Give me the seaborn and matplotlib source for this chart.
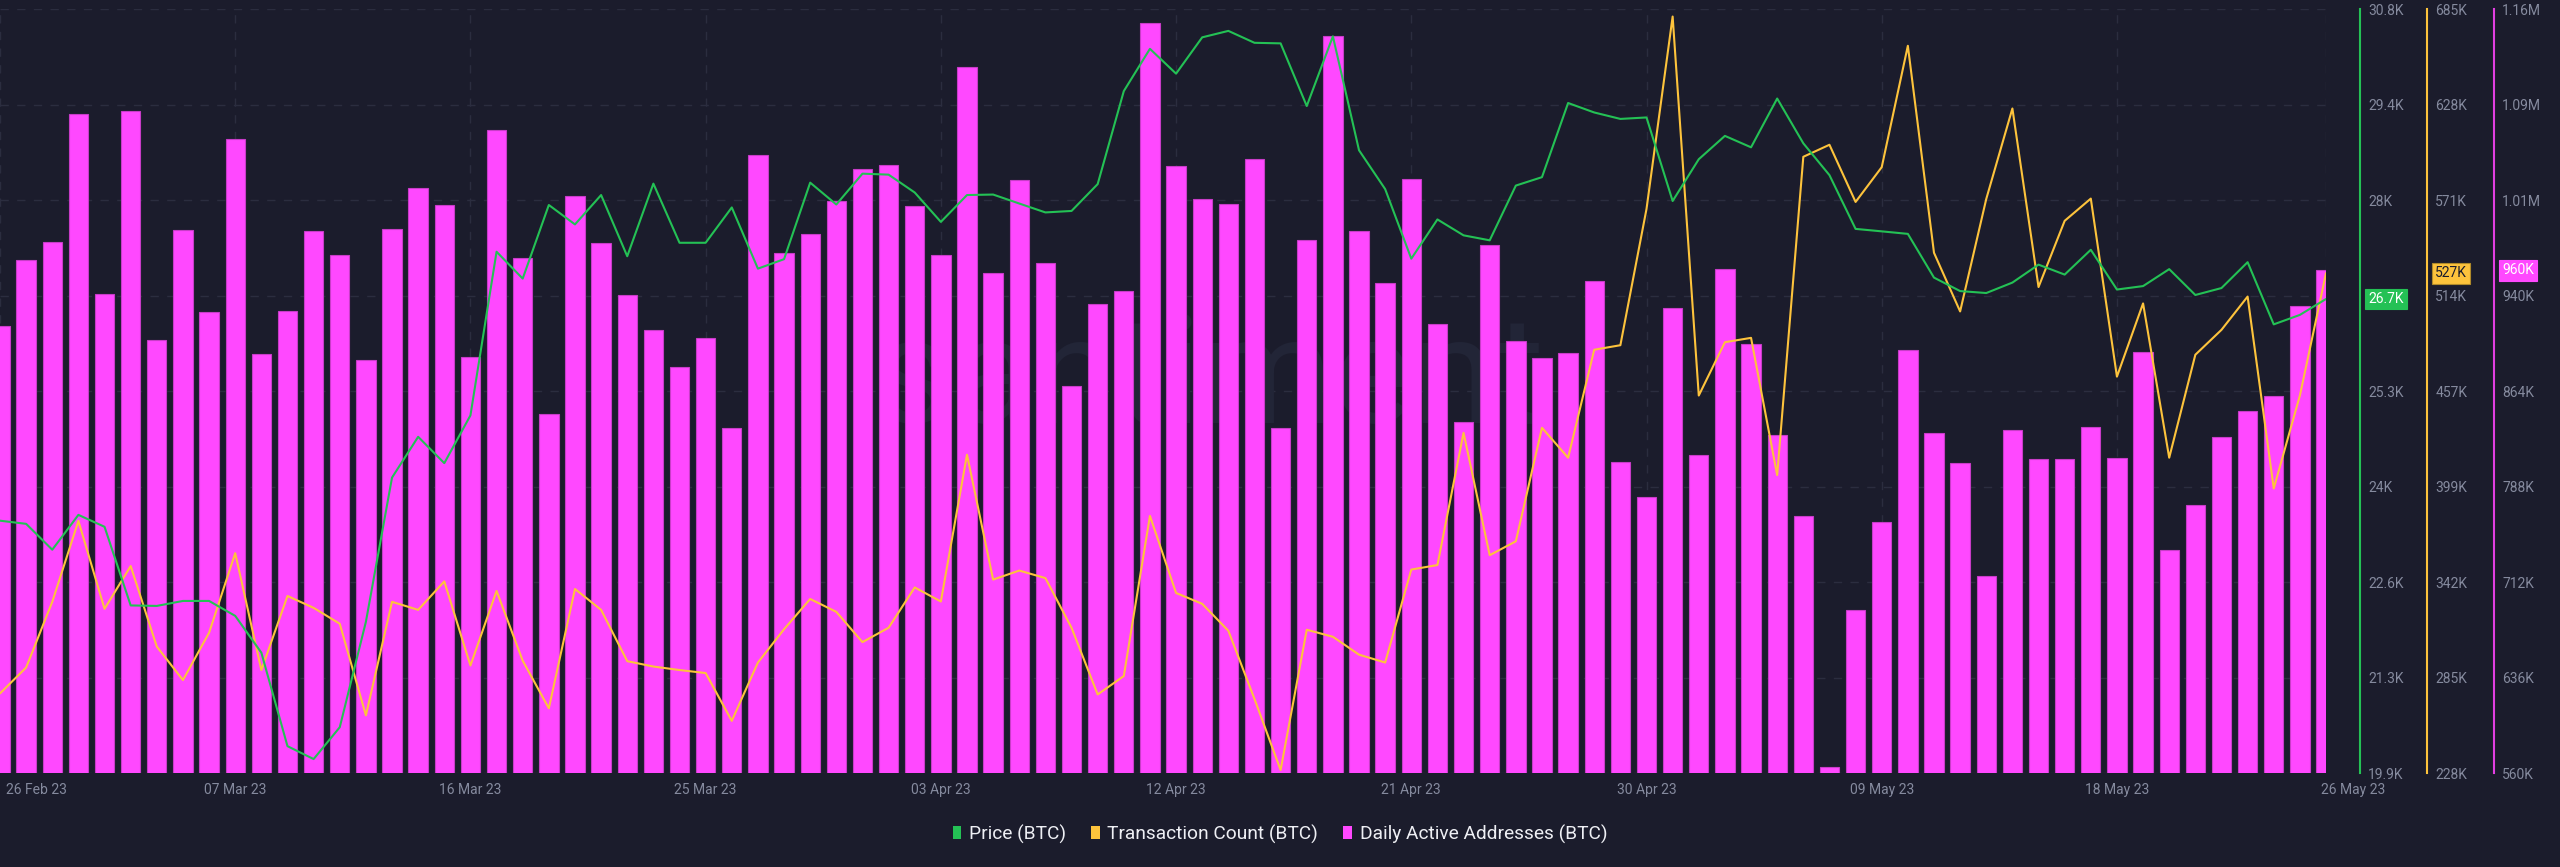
import numpy as np
import pandas as pd
import matplotlib
matplotlib.use('Agg')
import matplotlib.pyplot as plt
import matplotlib.transforms as mtransforms
from matplotlib.patches import Patch
import seaborn as sns

# ---- data ----
dates = pd.date_range('2023-02-26', '2023-05-26', freq='D')

price = [23500, 23455, 23086, 23583, 23413, 22291, 22284, 22355, 22355, 22142,
         21617, 20283, 20099, 20553, 22057, 24115, 24697, 24321, 25002, 27337,
         26954, 28004, 27727, 28146, 27273, 28309, 27465, 27465, 27969, 27096,
         27231, 28323, 28011, 28451, 28437, 28182, 27763, 28146, 28153, 28025,
         27898, 27919, 28302, 29629, 30232, 29878, 30396, 30488, 30318, 30310,
         29416, 30410, 28785, 28231, 27238, 27798, 27571, 27500, 28281, 28401,
         29459, 29324, 29232, 29253, 28061, 28657, 28990, 28827, 29523, 28884,
         28430, 27663, 27628, 27592, 26968, 26776, 26748, 26897, 27153, 27011,
         27365, 26798, 26847, 27089, 26720, 26819, 27188, 26301, 26436, 26663]

# transaction count, thousands
tx_count = [275.6, 291.1, 330.4, 378.8, 326.2, 351.8, 303.6, 283.6, 311.9, 359.5,
            289.6, 333.9, 326.8, 317.3, 262.5, 330.4, 325.6, 342.6, 292.3, 336.9,
            295.2, 266.7, 338.1, 325.6, 294.9, 291.7, 289.6, 287.8, 259.2, 294.1,
            314.0, 332.1, 324.4, 306.3, 314.9, 339.0, 330.6, 418.4, 343.7, 349.1,
            344.6, 314.9, 275.0, 286.0, 381.8, 335.7, 329.2, 313.1, 272.3, 229.8,
            313.7, 309.5, 298.8, 294.1, 349.7, 352.4, 431.5, 358.3, 366.6, 434.5,
            416.6, 481.2, 483.9, 565.4, 680.5, 453.8, 485.7, 488.3, 406.2, 596.6,
            603.8, 569.6, 590.4, 663.0, 539.2, 504.1, 571.4, 625.5, 518.7, 558.3,
            571.6, 465.1, 508.9, 416.6, 478.2, 493.1, 513.0, 398.2, 453.8, 527.0]

# daily active addresses, thousands
active_addr = [915.5, 968.5, 982.7, 1084.5, 941.6, 1087.2, 904.4, 991.9, 926.5, 1064.7,
               893.3, 927.7, 991.5, 972.5, 888.9, 992.6, 1025.5, 1012.4, 890.9, 1071.8,
               969.7, 845.8, 1019.2, 982.0, 940.4, 912.7, 883.0, 906.0, 834.7, 1051.6,
               973.6, 989.1, 1015.2, 1040.5, 1044.1, 1011.6, 972.5, 1122.1, 958.2, 1032.2,
               965.7, 867.6, 932.9, 943.6, 1156.5, 1042.9, 1016.8, 1013.2, 1048.5, 834.7,
               983.9, 1146.2, 991.1, 950.3, 1032.6, 917.0, 839.1, 980.0, 903.6, 890.5,
               894.1, 951.5, 807.8, 779.3, 930.1, 812.9, 961.4, 901.6, 828.8, 764.3,
               564.8, 689.4, 759.5, 896.9, 830.4, 806.6, 716.4, 832.7, 810.2, 810.2,
               835.1, 810.6, 894.9, 737.7, 773.4, 827.2, 847.8, 860.4, 931.3, 960.0]

price_ticks = ['19.9K', '21.3K', '22.6K', '24K', '25.3K', '26.7K', '28K', '29.4K', '30.8K']
tx_ticks = ['228K', '285K', '342K', '399K', '457K', '514K', '571K', '628K', '685K']
addr_ticks = ['560K', '636K', '712K', '788K', '864K', '940K', '1.01M', '1.09M', '1.16M']
x_tick_days = [0, 9, 18, 27, 36, 45, 54, 63, 72, 81, 89]

BG = '#1b1c2c'
GRID = '#2b2d3f'
GRAY = '#858a9e'
MAGENTA = '#ff48ff'
GREEN = '#24c155'
YELLOW = '#fdc33c'

df = pd.DataFrame({'day': np.arange(len(dates)), 'price': price,
                   'tx': tx_count, 'addr': active_addr})

sns.set_theme(style='dark')
plt.rcParams['font.family'] = ['Roboto', 'DejaVu Sans']

fig = plt.figure(figsize=(25.6, 8.67), dpi=100, facecolor=BG)
ax = fig.add_axes([0, 0.1084, 0.9086, 0.8812])
ax.set_facecolor(BG)

# watermark
ax.text(0.52, 0.458, 'santiment', transform=ax.transAxes, ha='center', va='baseline',
        fontsize=108, color='#222537', zorder=0.8)

# bars - daily active addresses
sns.barplot(data=df, x='day', y='addr', color=MAGENTA, saturation=1, width=0.74,
            edgecolor='#c83cc8', linewidth=0.8, ax=ax)
ax.set_ylim(560, 1168)

ax_tx = ax.twinx()
ax_price = ax.twinx()
sns.lineplot(data=df, x='day', y='price', color=GREEN, linewidth=1.5, ax=ax_price)
sns.lineplot(data=df, x='day', y='tx', color=YELLOW, linewidth=1.5, ax=ax_tx)
ax_price.set_ylim(19900, 30800)
ax_tx.set_ylim(228, 685)

for a, ticks, col, pos in [(ax, addr_ticks, '#e23fe2', 1.0722),
                           (ax_tx, tx_ticks, YELLOW, 1.0434),
                           (ax_price, price_ticks, GREEN, 1.0146)]:
    lo, hi = a.get_ylim()
    a.set_yticks(np.linspace(lo, hi, len(ticks)))
    a.set_yticklabels(ticks)
    a.yaxis.tick_right()
    a.tick_params(axis='y', length=0, pad=6, colors=GRAY, labelsize=10,
                  right=True, left=False, labelright=True, labelleft=False)
    for s in ['top', 'left', 'bottom']:
        a.spines[s].set_visible(False)
    a.spines['right'].set_visible(True)
    a.spines['right'].set_position(('axes', pos))
    a.spines['right'].set_color(col)
    a.spines['right'].set_linewidth(1.5)
    a.set_ylabel('')
    a.set_xlabel('')

ax_tx.grid(False)
ax_price.grid(False)
ax.set_axisbelow(True)
ax.grid(True, axis='both', color=GRID, linestyle=(0, (6, 6)), linewidth=1)

ax.set_xticks(x_tick_days)
ax.set_xticklabels([dates[d].strftime('%d %b %y') for d in x_tick_days])
ax.tick_params(axis='x', length=0, pad=7, colors=GRAY, labelsize=10)
ax.set_xlim(0, len(dates) - 1)

xl = ax.get_xticklabels()
xl[0].set_ha('left')
xl[0].set_transform(xl[0].get_transform() + mtransforms.ScaledTranslation(6 / 100, 0, fig.dpi_scale_trans))
xl[-1].set_ha('left')
xl[-1].set_transform(xl[-1].get_transform() + mtransforms.ScaledTranslation(-5 / 100, 0, fig.dpi_scale_trans))


# value badges on the right axes
def badge(a, xfrac, val, text, fc, tc, ec):
    tr = mtransforms.blended_transform_factory(a.transAxes, a.transData)
    a.text(xfrac, val, text, transform=tr, ha='left', va='center', fontsize=10,
           color=tc, zorder=10, clip_on=False,
           bbox=dict(boxstyle='square,pad=0.25', fc=fc, ec=ec, lw=0.8))


badge(ax_price, 1.0181, price[-1], '26.7K', GREEN, 'white', GREEN)
badge(ax_tx, 1.0469, tx_count[-1], '527K', YELLOW, BG, '#b08a2a')
badge(ax, 1.0757, active_addr[-1], '960K', MAGENTA, 'white', MAGENTA)

handles = [Patch(facecolor=GREEN, edgecolor='none', label='Price (BTC)'),
           Patch(facecolor=YELLOW, edgecolor='none', label='Transaction Count (BTC)'),
           Patch(facecolor=MAGENTA, edgecolor='none', label='Daily Active Addresses (BTC)')]
leg = fig.legend(handles=handles, loc='center', bbox_to_anchor=(0.5, 0.038), ncol=3,
                 frameon=False, fontsize=13.8, handlelength=0.45, handleheight=0.7,
                 handletextpad=0.4, columnspacing=1.3)
for t in leg.get_texts():
    t.set_color('#eeeff4')

fig.savefig('out.png', dpi=100, facecolor=BG)
